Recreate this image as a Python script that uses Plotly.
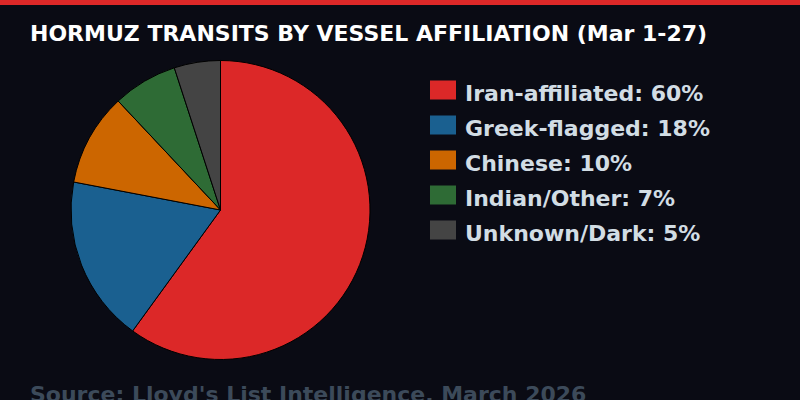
import plotly.graph_objects as go

categories = ["Iran-affiliated", "Greek-flagged", "Chinese", "Indian/Other", "Unknown/Dark"]
shares = [60, 18, 10, 7, 5]
colors = ["#dc2828", "#1a6090", "#cc6600", "#2e6b35", "#444444"]
title_text = "HORMUZ TRANSITS BY VESSEL AFFILIATION (Mar 1-27)"
source_text = "Source: Lloyd's List Intelligence, March 2026"

W, H = 800, 400
BG = "#0a0b14"
FONT = "DejaVu Sans"

fig = go.Figure(go.Pie(
    labels=categories,
    values=shares,
    marker=dict(colors=colors, line=dict(color="#000000", width=1)),
    sort=False,
    direction="clockwise",
    rotation=0,
    textinfo="none",
    hoverinfo="label+percent",
    showlegend=False,
    domain=dict(x=[71 / W, 370 / W], y=[40 / H, 340 / H]),
))

shapes = [dict(type="rect", xref="paper", yref="paper", x0=0, x1=1, y0=1 - 5 / H, y1=1,
               fillcolor="#dc2828", line=dict(width=0), layer="above")]
annotations = [
    dict(text="<b>" + title_text + "</b>", xref="paper", yref="paper", x=28 / W, y=1 - 34 / H,
         xanchor="left", yanchor="middle", showarrow=False,
         font=dict(family=FONT, size=22, color="#ffffff")),
    dict(text="<b>" + source_text + "</b>", xref="paper", yref="paper", x=28 / W, y=1 - 394 / H,
         xanchor="left", yanchor="middle", showarrow=False,
         font=dict(family=FONT, size=22, color="#3c4a5a")),
]

row0, step = 90, 35
for i, (cat, val, col) in enumerate(zip(categories, shares, colors)):
    yc = row0 + i * step
    shapes.append(dict(type="rect", xref="paper", yref="paper",
                       x0=430 / W, x1=456 / W, y0=1 - (yc + 9.5) / H, y1=1 - (yc - 9.5) / H,
                       fillcolor=col, line=dict(width=0)))
    annotations.append(dict(text=f"<b>{cat}: {val}%</b>", xref="paper", yref="paper",
                            x=463 / W, y=1 - (yc + 3) / H, xanchor="left", yanchor="middle",
                            showarrow=False, font=dict(family=FONT, size=22, color="#d2dde4")))

fig.update_layout(
    width=W, height=H,
    margin=dict(l=0, r=0, t=0, b=0),
    paper_bgcolor=BG, plot_bgcolor=BG,
    shapes=shapes, annotations=annotations,
)

fig.write_html(
    "out.html",
    config={"displayModeBar": False},
    post_script="document.body.style.margin='0';document.body.style.background='%s';" % BG,
)
